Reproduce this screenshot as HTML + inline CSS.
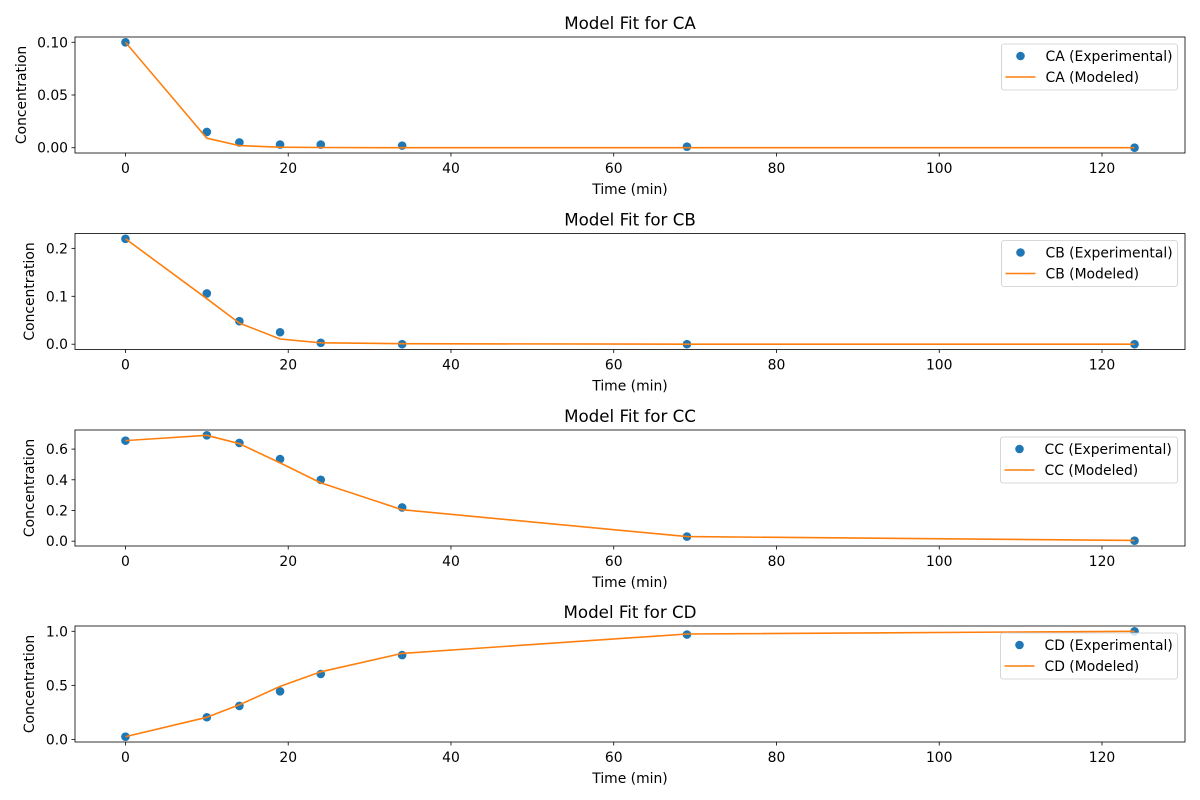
<!DOCTYPE html>
<html><head><meta charset="utf-8"><style>
html,body{margin:0;padding:0;background:#fff;}
svg{display:block;font-family:"DejaVu Sans","Liberation Sans",sans-serif;}
</style></head><body>
<svg id="chart" width="1200" height="800" viewBox="0 0 1200 800" xmlns="http://www.w3.org/2000/svg">
<rect width="1200" height="800" fill="#fff"/>
</svg>
<script>
const times = [0, 10, 14, 19, 24, 34, 69, 124];
const species = ["CA", "CB", "CC", "CD"];
const expCA = [0.100, 0.015, 0.005, 0.003, 0.003, 0.002, 0.001, 0.000];
const modCA = [0.100, 0.009, 0.002, 0.0005, 0.0002, 0.0, 0.0, 0.0];
const expCB = [0.220, 0.106, 0.048, 0.025, 0.003, 0.000, 0.000, 0.000];
const modCB = [0.220, 0.095, 0.044, 0.011, 0.003, 0.001, 0.0, 0.0];
const expCC = [0.655, 0.690, 0.640, 0.535, 0.400, 0.220, 0.030, 0.003];
const modCC = [0.655, 0.690, 0.635, 0.510, 0.380, 0.205, 0.030, 0.005];
const expCD = [0.025, 0.205, 0.310, 0.445, 0.605, 0.780, 0.970, 1.000];
const modCD = [0.025, 0.205, 0.320, 0.490, 0.625, 0.795, 0.975, 1.000];
const xTicks = [0, 20, 40, 60, 80, 100, 120];
const yTicksCA = ["0.00", "0.05", "0.10"];
const yTicksCB = ["0.0", "0.1", "0.2"];
const yTicksCC = ["0.0", "0.2", "0.4", "0.6"];
const yTicksCD = ["0.0", "0.5", "1.0"];

const expData = [expCA, expCB, expCC, expCD];
const modData = [modCA, modCB, modCC, modCD];
const yTickSets = [yTicksCA, yTicksCB, yTicksCC, yTicksCD];
const svg = document.getElementById('chart');
const NS = "http://www.w3.org/2000/svg";
function mk(tag, attrs, parent) {
  const e = document.createElementNS(NS, tag);
  for (const k in attrs) e.setAttribute(k, attrs[k]);
  (parent || svg).appendChild(e);
  return e;
}
const L = 75, R = 1185, tops = [37, 233.5, 430, 626], H = 116;
const xmin = -6.2, xmax = 130.2;
const xs = v => L + (v - xmin) / (xmax - xmin) * (R - L);
const FS = '13.9';

species.forEach((sp, i) => {
  const top = tops[i], bot = top + H;
  const allv = expData[i].concat(modData[i]);
  const dmin = Math.min(...allv), dmax = Math.max(...allv);
  const pad = (dmax - dmin) * 0.05;
  const ymin = dmin - pad, ymax = dmax + pad;
  const ys = v => bot - (v - ymin) / (ymax - ymin) * H;

  const g = mk('g', {});
  
  

  const title = mk('text', {x: (L + R) / 2, y: top - 8, 'text-anchor': 'middle', 'font-size': '16.7', fill: '#000'}, g);
  title.textContent = 'Model Fit for ' + sp;
  
  

  xTicks.forEach(t => {
    const x = xs(t);
    mk('line', {x1: x, x2: x, y1: bot, y2: bot + 3.5, stroke: '#000', 'stroke-width': 0.8}, g);
    const tl = mk('text', {x: x, y: bot + 20, 'text-anchor': 'middle', 'font-size': FS, fill: '#000'}, g);
    tl.textContent = t;
    
    
  });
  const xl = mk('text', {x: (L + R) / 2, y: bot + 41, 'text-anchor': 'middle', 'font-size': FS, fill: '#000'}, g);
  xl.textContent = 'Time (min)';
  
  

  yTickSets[i].forEach(t => {
    const y = ys(parseFloat(t));
    mk('line', {x1: L - 3.5, x2: L, y1: y, y2: y, stroke: '#000', 'stroke-width': 0.8}, g);
    const tl = mk('text', {x: L - 7, y: y + 5, 'text-anchor': 'end', 'font-size': FS, fill: '#000'}, g);
    tl.textContent = t;
    
    
  });
  const ylx = i === 0 ? 26 : 34;
  const yl = mk('text', {x: ylx, y: (top + bot) / 2, 'text-anchor': 'middle', 'font-size': FS, fill: '#000', transform: `rotate(-90 ${ylx} ${(top + bot) / 2})`}, g);
  yl.textContent = 'Concentration';
  
  

  times.forEach((t, j) => {
    const c = mk('circle', {cx: xs(t), cy: ys(expData[i][j]), r: 4.3, fill: '#1f77b4'}, g);
    
    
  });
  const pts = times.map((t, j) => xs(t).toFixed(1) + ',' + ys(modData[i][j]).toFixed(1)).join(' ');
  const pl = mk('polyline', {points: pts, fill: 'none', stroke: '#ff7f0e', 'stroke-width': 1.6, 'stroke-linejoin': 'round'}, g);
  
  

  const fr = mk('rect', {x: L, y: top, width: R - L, height: H, fill: 'none', stroke: '#000', 'stroke-width': 0.8}, g);
  
  

  const lg = mk('g', {}, g);
  
  
  const lx = sp === 'CD' || sp === 'CC' ? 1000.5 : 1001.5;
  const ly = top + 7;
  mk('rect', {x: lx, y: ly, width: 1177.5 - lx, height: 46, rx: 2.5, fill: '#fff', 'fill-opacity': 0.8, stroke: '#ccc', 'stroke-width': 0.8}, lg);
  const m = mk('circle', {cx: lx + 19, cy: ly + 12, r: 4.3, fill: '#1f77b4'}, lg);
  
  
  const t1 = mk('text', {x: lx + 44, y: ly + 17, 'font-size': FS, fill: '#000'}, lg);
  t1.textContent = sp + ' (Experimental)';
  
  
  mk('line', {x1: lx + 4, x2: lx + 34, y1: ly + 33, y2: ly + 33, stroke: '#ff7f0e', 'stroke-width': 1.6}, lg);
  const t2 = mk('text', {x: lx + 44, y: ly + 38, 'font-size': FS, fill: '#000'}, lg);
  t2.textContent = sp + ' (Modeled)';
  
  
});
</script>
</body></html>
